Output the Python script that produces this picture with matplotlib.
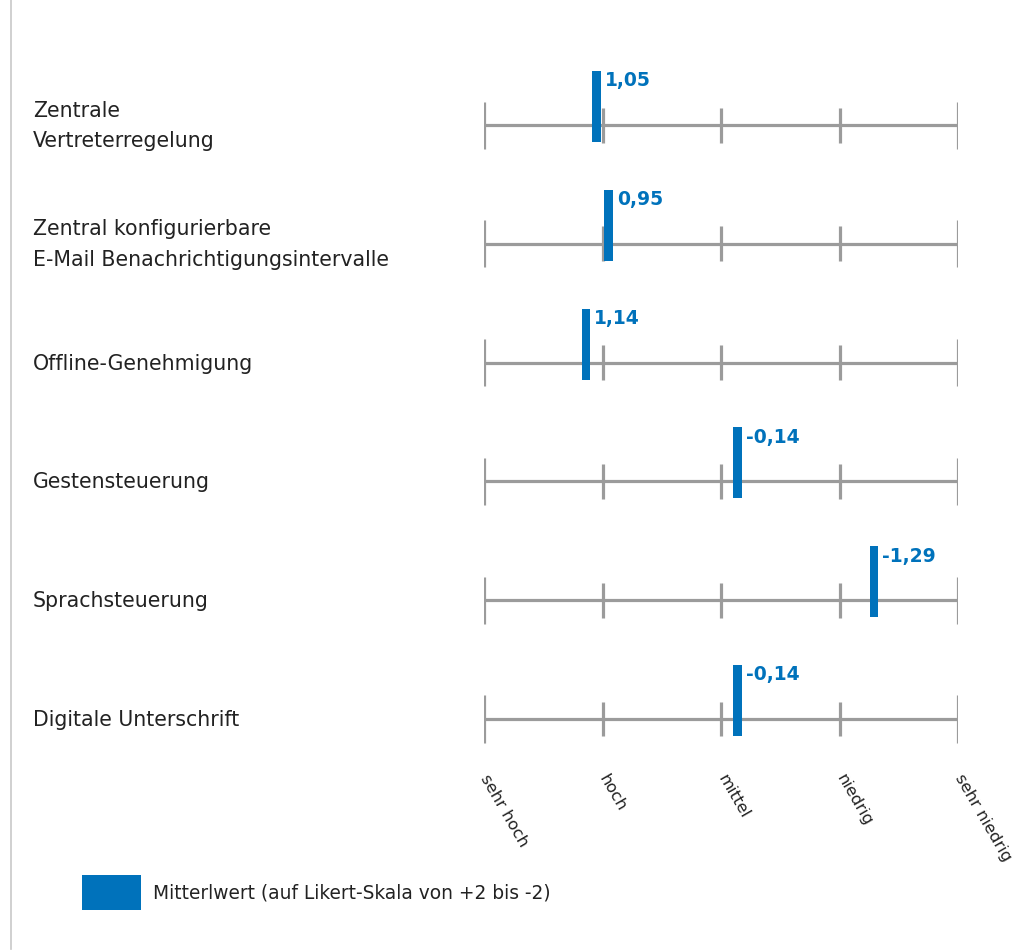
import matplotlib
matplotlib.use("Agg")
import matplotlib.pyplot as plt
from matplotlib.lines import Line2D
from matplotlib.transforms import blended_transform_factory

# ---- data ----
categories = [
    "Zentrale\nVertreterregelung",
    "Zentral konfigurierbare\nE-Mail Benachrichtigungsintervalle",
    "Offline-Genehmigung",
    "Gestensteuerung",
    "Sprachsteuerung",
    "Digitale Unterschrift",
]
mean_values = [1.05, 0.95, 1.14, -0.14, -1.29, -0.14]
value_labels = ["1,05", "0,95", "1,14", "-0,14", "-1,29", "-0,14"]
scale_positions = [2, 1, 0, -1, -2]
scale_labels = ["sehr hoch", "hoch", "mittel", "niedrig", "sehr niedrig"]
legend_label = "Mitterlwert (auf Likert-Skala von +2 bis -2)"

# ---- style ----
BLUE = "#0072BB"
GREY = "#9b9b9b"
TXT = "#222222"
W, H = 1016, 953
fig = plt.figure(figsize=(W / 100, H / 100), dpi=100)

ax_top_px, ax_bot_px = 40, 770
row0_px, row_step_px = 126, 118.8
ax = fig.add_axes([484 / W, 1 - ax_bot_px / H, 474 / W, (ax_bot_px - ax_top_px) / H])
ax.set_xlim(2, -2)
ax.set_ylim((ax_bot_px - row0_px) / row_step_px, (ax_top_px - row0_px) / row_step_px)
for s in ax.spines.values():
    s.set_visible(False)
ax.set_yticks([])
ax.set_xticks(scale_positions)
ax.set_xticklabels(scale_labels, rotation=-60, ha="left", va="center",
                   rotation_mode="anchor", fontsize=11.8, color=TXT)
ax.tick_params(axis="x", length=0, pad=4)

px = 1 / row_step_px
rows = list(range(len(categories)))
lw = 2.3
ax.hlines(rows, 2, -2, color=GREY, lw=lw, zorder=1)
for r in rows:
    for p in scale_positions:
        half = 23.5 if p in (2, -2) else 17.5
        ax.vlines(p, r - half * px, r + half * px, color=GREY, lw=lw, zorder=1)

bar_w = 8.6 * 4 / 474
bar_top, bar_bot = 54 * px, 17 * px
ax.bar(mean_values, bar_top + bar_bot, bottom=[r - bar_top for r in rows],
       width=bar_w, color=BLUE, zorder=3, label=legend_label)

for r, v, lab in zip(rows, mean_values, value_labels):
    ax.annotate(lab, xy=(v - bar_w / 2, r - bar_top), xytext=(3, 0.5),
                textcoords="offset points", ha="left", va="top",
                fontsize=13.5, fontweight="bold", color=BLUE)

tr = blended_transform_factory(fig.transFigure, ax.transData)
for r, c in zip(rows, categories):
    ax.text(33 / W, r, c, transform=tr, ha="left", va="center",
            fontsize=14.8, linespacing=1.68, color=TXT)

# left border line
fig.add_artist(Line2D([11 / W, 11 / W], [1 - 950 / H, 1], transform=fig.transFigure,
                      color="#c8c8c8", lw=1.2))

fs = 13.4
fpx = fs * 100 / 72
hh = (35 * 72 / 100 / fs - 0.35 * 0.7) / (1 - 0.35)
leg = fig.legend(loc="center left", bbox_to_anchor=(82 / W, 1 - 893 / H), frameon=False,
                 fontsize=fs, handlelength=59 / fpx, handleheight=hh,
                 handletextpad=12 / fpx, borderpad=0, borderaxespad=0)
for t in leg.get_texts():
    t.set_color(TXT)

fig.savefig("out.png", dpi=100)
